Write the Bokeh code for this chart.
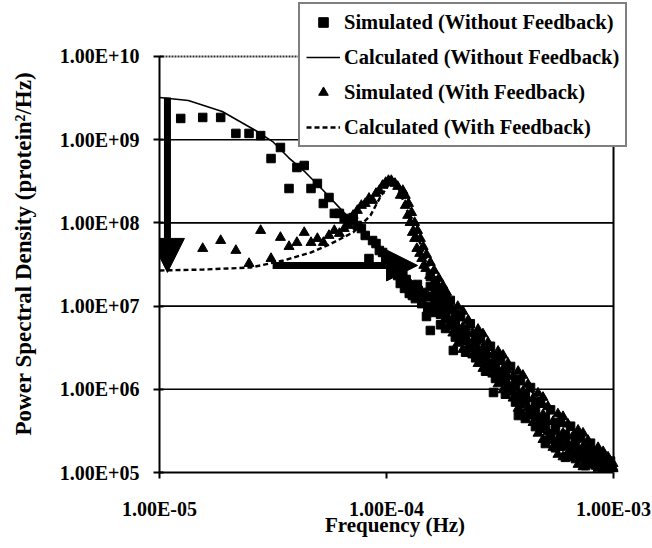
from bokeh.plotting import figure
from bokeh.models import FixedTicker, Legend, LegendItem, Arrow, NormalHead
from bokeh.embed import file_html
from bokeh.resources import INLINE

FONT = "Liberation Serif"

# Axis ticks and their printed labels
x_ticks = [1e-5, 1e-4, 1e-3]
x_tick_labels = ["1.00E-05", "1.00E-04", "1.00E-03"]
y_ticks = [1e5, 1e6, 1e7, 1e8, 1e9, 1e10]
y_tick_labels = ["1.00E+05", "1.00E+06", "1.00E+07", "1.00E+08", "1.00E+09", "1.00E+10"]

# Calculated spectrum, no feedback (Hz, protein^2/Hz)
calc_nofb_freq = [1.00e-5, 1.34e-5, 1.89e-5, 2.65e-5, 3.15e-5, 3.70e-5, 4.40e-5, 5.23e-5,
                  6.14e-5, 7.15e-5, 9.70e-5, 1.56e-4, 2.59e-4, 3.89e-4, 5.84e-4, 1.00e-3]
calc_nofb_psd = [3.21e9, 2.96e9, 2.18e9, 1.29e9, 9.5e8, 6.1e8, 4.04e8, 2.5e8,
                 1.57e8, 1.01e8, 4.29e7, 1.23e7, 3.55e6, 1.24e6, 4.46e5, 1.21e5]

# Calculated spectrum, with feedback
calc_fb_freq = [1.00e-5, 1.56e-5, 2.52e-5, 3.52e-5, 4.63e-5, 5.49e-5, 7.13e-5, 8.50e-5, 9.41e-5,
                1.04e-4, 1.13e-4, 1.28e-4, 1.52e-4, 1.82e-4, 2.34e-4, 3.18e-4, 5.84e-4, 1.00e-3]
calc_fb_psd = [2.68e7, 2.75e7, 2.91e7, 3.53e7, 4.40e7, 5.35e7, 7.70e7, 1.23e8, 2.07e8,
               3.05e8, 2.60e8, 1.07e8, 3.33e7, 1.23e7, 5.40e6, 2.10e6, 4.46e5, 1.21e5]

# Simulated spectrum, no feedback
sim_nofb_freq = [
    1.24e-5, 1.55e-5, 1.86e-5, 2.17e-5, 2.48e-5, 2.79e-5, 3.10e-5, 3.41e-5, 3.72e-5, 4.03e-5,
    4.34e-5, 4.65e-5, 4.96e-5, 5.27e-5, 5.58e-5, 5.89e-5, 6.20e-5, 6.51e-5, 6.82e-5, 7.13e-5,
    7.44e-5, 7.75e-5, 8.06e-5, 8.37e-5, 8.68e-5, 8.99e-5, 9.30e-5, 9.61e-5, 9.92e-5, 1.02e-4,
    1.05e-4, 1.09e-4, 1.12e-4, 1.15e-4, 1.18e-4, 1.20e-4, 1.22e-4, 1.26e-4, 1.30e-4, 1.34e-4,
    1.38e-4, 1.43e-4, 1.47e-4, 1.52e-4, 1.56e-4,
    1.165e-4, 1.235e-4, 1.30e-4, 1.368e-4, 1.44e-4, 1.517e-4, 1.50e-4,
    1.56e-4, 1.56e-4, 1.56e-4, 1.56e-4,
    1.64e-4, 1.64e-4, 1.64e-4, 1.64e-4, 1.64e-4,
    1.73e-4, 1.73e-4, 1.73e-4, 1.73e-4, 1.73e-4,
    1.82e-4, 1.82e-4, 1.82e-4, 1.82e-4, 1.82e-4,
    1.91e-4, 1.91e-4, 1.97e-4, 2.01e-4, 2.01e-4, 2.01e-4, 2.12e-4, 2.12e-4, 2.12e-4,
    2.23e-4, 2.23e-4, 2.23e-4, 2.34e-4, 2.34e-4,
    2.47e-4, 2.47e-4, 2.47e-4, 2.59e-4, 2.59e-4, 2.59e-4, 2.73e-4, 2.73e-4, 2.73e-4,
    2.87e-4, 2.87e-4, 2.96e-4,
    3.02e-4, 3.02e-4, 3.02e-4, 3.18e-4, 3.18e-4, 3.18e-4, 3.34e-4, 3.34e-4, 3.34e-4,
    3.52e-4, 3.52e-4, 3.70e-4, 3.70e-4, 3.70e-4,
    3.81e-4, 3.89e-4, 3.89e-4, 3.89e-4, 4.09e-4, 4.09e-4, 4.09e-4, 4.31e-4, 4.31e-4,
    4.53e-4, 4.53e-4, 4.53e-4,
    4.77e-4, 4.77e-4, 4.77e-4, 5.01e-4, 5.01e-4, 5.01e-4, 5.28e-4, 5.28e-4,
    5.55e-4, 5.55e-4, 5.55e-4, 5.84e-4, 5.84e-4, 5.84e-4,
    6.14e-4, 6.14e-4, 6.14e-4, 6.47e-4, 6.47e-4, 6.80e-4, 6.80e-4, 6.80e-4,
    7.16e-4, 7.16e-4, 7.16e-4, 7.53e-4, 7.53e-4, 7.53e-4,
    7.92e-4, 7.92e-4, 8.33e-4, 8.33e-4, 8.33e-4, 8.77e-4, 8.77e-4, 8.77e-4,
    9.22e-4, 9.22e-4, 9.22e-4, 9.70e-4, 9.70e-4]
sim_nofb_psd = [
    1.80e9, 1.85e9, 1.85e9, 1.19e9, 1.19e9, 1.12e9, 5.94e8, 8.06e8, 2.59e8, 4.63e8,
    4.90e8, 2.59e8, 2.98e8, 1.71e8, 2.02e8, 1.30e8, 1.30e8, 1.13e8, 1.07e8, 1.16e8,
    9.31e7, 8.56e7, 7.06e7, 3.73e7, 6.14e7, 5.65e7, 4.66e7, 4.41e7, 3.73e7, 3.34e7,
    3.34e7, 2.68e7, 2.33e7, 1.87e7, 2.53e7, 1.63e7, 2.09e7, 1.42e7, 1.77e7, 1.23e7,
    1.54e7, 1.07e7, 1.34e7, 9.36e6, 5.09e6,
    2.03e7, 1.82e7, 1.34e7, 1.82e7, 1.46e7, 1.30e7, 7.50e6,
    2.27e7, 1.30e7, 1.72e7, 9.89e6,
    1.54e7, 8.38e6, 1.27e7, 1.92e7, 1.04e7,
    1.46e7, 7.93e6, 9.31e6, 1.10e7, 5.96e6,
    9.89e6, 5.38e6, 8.31e6, 1.30e7, 7.04e6,
    1.17e7, 6.64e6, 2.93e6, 7.88e6, 4.24e6, 6.51e6, 7.46e6, 4.00e6, 4.74e6,
    5.13e6, 2.79e6, 4.35e6, 6.13e6, 3.57e6,
    4.25e6, 2.39e6, 3.55e6, 4.05e6, 2.31e6, 2.69e6, 2.85e6, 1.65e6, 2.46e6,
    3.29e6, 2.03e6, 9.15e5,
    2.34e6, 1.35e6, 1.98e6, 2.24e6, 1.27e6, 1.49e6, 1.57e6, 8.73e5, 1.34e6,
    1.88e6, 1.09e6, 1.30e6, 7.02e5, 1.08e6,
    4.84e5, 1.27e6, 6.68e5, 7.95e5, 8.54e5, 4.46e5, 7.16e5, 1.05e6, 5.72e5,
    7.02e5, 3.56e5, 5.69e5,
    6.79e5, 3.41e5, 4.11e5, 4.49e5, 2.23e5, 3.71e5, 5.66e5, 2.95e5,
    3.94e5, 1.98e5, 3.19e5, 4.01e5, 2.07e5, 2.48e5,
    2.86e5, 1.52e5, 2.40e5, 3.60e5, 2.08e5, 2.61e5, 1.47e5, 2.19e5,
    2.60e5, 1.51e5, 1.75e5, 1.95e5, 1.21e5, 1.72e5,
    2.25e5, 1.54e5, 1.75e5, 1.23e5, 1.57e5, 1.67e5, 1.26e5, 1.36e5,
    1.38e5, 1.11e5, 1.30e5, 1.37e5, 1.20e5]

# Simulated spectrum, with feedback
sim_fb_freq = [
    1.55e-5, 1.86e-5, 2.17e-5, 2.48e-5, 2.79e-5, 3.10e-5, 3.41e-5, 3.72e-5, 4.03e-5, 4.34e-5,
    4.65e-5, 4.96e-5, 5.27e-5, 5.58e-5, 5.89e-5, 6.20e-5, 6.51e-5, 6.82e-5, 7.13e-5, 7.44e-5,
    7.75e-5, 8.06e-5, 8.37e-5, 8.68e-5, 8.99e-5, 9.30e-5, 9.61e-5, 9.92e-5, 1.02e-4, 1.05e-4,
    1.09e-4, 1.12e-4, 1.15e-4, 1.18e-4, 1.21e-4, 1.24e-4, 1.27e-4, 1.30e-4, 1.33e-4, 1.36e-4,
    1.40e-4, 1.43e-4, 1.46e-4, 1.49e-4, 1.55e-4, 1.61e-4, 1.67e-4, 1.74e-4, 1.80e-4, 1.86e-4,
    1.21e-4, 1.25e-4, 1.29e-4, 1.33e-4, 1.37e-4, 1.41e-4, 1.45e-4, 1.50e-4, 1.56e-4, 1.62e-4,
    1.70e-4, 1.77e-4, 1.84e-4,
    1.96e-4, 1.96e-4, 2.06e-4, 2.06e-4, 2.17e-4, 2.17e-4, 2.29e-4, 2.29e-4, 2.40e-4, 2.40e-4,
    2.53e-4, 2.53e-4, 2.66e-4, 2.66e-4, 2.80e-4, 2.80e-4, 2.94e-4, 2.94e-4, 3.10e-4, 3.10e-4,
    3.26e-4, 3.26e-4, 3.43e-4, 3.43e-4, 3.61e-4, 3.61e-4, 3.80e-4, 3.80e-4, 3.99e-4, 3.99e-4,
    4.20e-4, 4.20e-4, 4.42e-4, 4.42e-4, 4.65e-4, 4.65e-4, 4.89e-4, 4.89e-4, 5.14e-4, 5.14e-4,
    5.41e-4, 5.41e-4, 5.69e-4, 5.69e-4, 5.99e-4, 5.99e-4, 6.30e-4, 6.30e-4, 6.63e-4, 6.63e-4,
    6.98e-4, 6.98e-4, 7.34e-4, 7.34e-4, 7.72e-4, 7.72e-4, 8.12e-4, 8.12e-4, 8.55e-4, 8.55e-4,
    9.00e-4, 9.00e-4, 9.46e-4, 9.46e-4, 9.95e-4, 9.95e-4,
    1.96e-4, 2.06e-4, 2.17e-4, 2.29e-4, 2.40e-4, 2.53e-4, 2.66e-4, 2.80e-4, 2.94e-4, 3.10e-4,
    3.26e-4, 3.43e-4, 3.61e-4, 3.80e-4, 3.99e-4, 4.20e-4, 4.42e-4, 4.65e-4, 4.89e-4, 5.14e-4,
    5.41e-4, 5.69e-4, 5.99e-4, 6.30e-4, 6.63e-4, 6.98e-4, 7.34e-4, 7.72e-4, 8.12e-4, 8.55e-4,
    9.00e-4, 9.46e-4, 9.95e-4]
sim_fb_psd = [
    4.92e7, 6.14e7, 4.66e7, 3.25e7, 8.10e7, 3.73e7, 6.68e7, 5.20e7, 5.81e7, 7.67e7,
    5.81e7, 6.49e7, 5.81e7, 7.06e7, 8.10e7, 7.46e7, 8.56e7, 9.31e7, 1.23e8, 1.41e8,
    1.62e8, 1.71e8, 1.97e8, 1.86e8, 2.26e8, 2.45e8, 2.82e8, 3.06e8, 3.23e8, 3.23e8,
    2.98e8, 2.74e8, 2.14e8, 2.45e8, 1.62e8, 1.23e8, 1.01e8, 7.67e7, 6.49e7, 4.92e7,
    4.29e7, 3.73e7, 3.08e7, 2.83e7, 2.33e7, 1.87e7, 1.54e7, 1.30e7, 1.17e7, 9.89e6,
    2.14e8, 1.71e8, 1.33e8, 1.01e8, 8.10e7, 6.49e7, 5.20e7, 4.17e7, 3.34e7, 2.68e7,
    2.15e7, 1.77e7, 1.46e7,
    8.80e6, 4.74e6, 9.89e6, 5.31e6, 5.62e6, 3.01e6, 6.77e6, 3.68e6, 4.69e6, 2.58e6,
    5.25e6, 2.94e6, 3.14e6, 1.78e6, 3.66e6, 2.12e6, 2.58e6, 1.52e6, 2.86e6, 1.65e6,
    1.74e6, 9.83e5, 2.05e6, 1.14e6, 1.43e6, 7.82e5, 1.64e6, 8.78e5, 9.46e5, 4.99e5,
    1.15e6, 5.99e5, 7.73e5, 3.98e5, 8.98e5, 4.56e5, 4.97e5, 2.49e5, 6.20e5, 3.07e5,
    4.09e5, 2.00e5, 5.05e5, 2.54e5, 2.97e5, 1.54e5, 3.81e5, 2.03e5, 2.74e5, 1.50e5,
    3.22e5, 1.81e5, 2.03e5, 1.17e5, 2.43e5, 1.51e5, 1.86e5, 1.23e5, 1.99e5, 1.40e5,
    1.47e5, 1.10e5, 1.53e5, 1.22e5, 1.28e5, 1.10e5,
    5.61e6, 3.57e6, 8.66e6, 3.19e6, 3.04e6, 2.04e6, 4.63e6, 1.86e6, 1.75e6, 1.16e6,
    2.57e6, 9.95e5, 9.20e5, 5.91e5, 1.47e6, 5.13e5, 4.76e5, 2.96e5, 7.99e5, 2.60e5,
    2.43e5, 1.65e5, 4.69e5, 1.74e5, 1.77e5, 1.25e5, 2.97e5, 1.34e5, 1.37e5, 1.12e5,
    1.78e5, 1.16e5, 1.15e5]

# The frame reaches a little past 1E+10 and 1E-03 so the legend box can sit
# over the top edge of the chart; axes are bounded to the data extent.
x_lo, x_hi = x_ticks[0], x_ticks[-1]
y_lo, y_hi = y_ticks[0], y_ticks[-1]
p = figure(width=652, height=548, x_axis_type="log", y_axis_type="log",
           x_range=(x_lo, 1.188e-3), y_range=(y_lo, 4.71e10),
           output_backend="svg", toolbar_location=None,
           min_border_left=159, min_border_right=22, min_border_top=0, min_border_bottom=76,
           background_fill_color="white", border_fill_color="white")
p.outline_line_color = None

# axes
p.xaxis.ticker = FixedTicker(ticks=x_ticks)
p.yaxis.ticker = FixedTicker(ticks=y_ticks)
p.xaxis.bounds = (x_lo, x_hi)
p.yaxis.bounds = (y_lo, y_hi)
p.xaxis.major_label_overrides = dict(zip(x_ticks, x_tick_labels))
p.yaxis.major_label_overrides = dict(zip(y_ticks, y_tick_labels))
for ax in (p.xaxis, p.yaxis):
    ax.axis_line_color = "black"
    ax.axis_line_width = 2
    ax.major_tick_line_color = "black"
    ax.major_tick_line_width = 2
    ax.minor_tick_line_color = None
    ax.major_label_text_font = FONT
    ax.major_label_text_font_style = "bold"
    ax.major_label_text_font_size = "20px"
    ax.major_label_text_color = "black"
    ax.axis_label_text_font = FONT
    ax.axis_label_text_font_style = "bold"
    ax.axis_label_text_font_size = "21px"
    ax.axis_label_text_color = "black"
p.yaxis.major_tick_in = 4
p.yaxis.major_tick_out = 6
p.yaxis.major_label_standoff = 14
# trailing no-break spaces keep the title centred on the 1E+05..1E+10 span
p.yaxis.axis_label = "Power Spectral Density (protein\u00b2/Hz)" + "\u00a0" * 6
p.yaxis.axis_label_text_font_size = "23px"
p.yaxis.axis_label_standoff = 21
p.xaxis.major_tick_in = 0
p.xaxis.major_tick_out = 6
p.xaxis.major_label_standoff = 19
p.xaxis.axis_label = "Frequency (Hz)"
p.xaxis.axis_label_standoff = -10

# horizontal grid lines, right border and dotted top line, within the axis extent
p.grid.visible = False
grid_levels = y_ticks[1:-1]
p.segment(x0=[x_lo] * len(grid_levels), y0=grid_levels,
          x1=[x_hi] * len(grid_levels), y1=grid_levels,
          line_color="black", line_width=1.6)
p.segment(x0=[x_lo], y0=[y_hi], x1=[x_hi], y1=[y_hi],
          line_color="#333333", line_width=2, line_dash="2 1")
p.segment(x0=[x_hi], y0=[y_lo], x1=[x_hi], y1=[y_hi], line_color="black", line_width=2)

# curves and points
r_calc = p.line(calc_nofb_freq, calc_nofb_psd, line_color="black", line_width=1.6)
r_calc_fb = p.line(calc_fb_freq, calc_fb_psd, line_color="black", line_width=2.4,
                   line_dash="5 3")
r_sim = p.scatter(sim_nofb_freq, sim_nofb_psd, marker="square", size=8.5, color="black")
r_sim_fb = p.scatter(sim_fb_freq, sim_fb_psd, marker="triangle", size=10, color="black")

# arrows: drop of the low-frequency level, and the shift to the resonance
p.add_layout(Arrow(end=NormalHead(size=34, fill_color="black", line_color="black"),
                   x_start=1.084e-5, y_start=3.21e9, x_end=1.084e-5, y_end=2.54e7,
                   line_width=7, line_color="black"))
p.add_layout(Arrow(end=NormalHead(size=31, fill_color="black", line_color="black"),
                   x_start=3.15e-5, y_start=3.08e7, x_end=1.37e-4, y_end=3.08e7,
                   line_width=7, line_color="black"))

legend = Legend(items=[
    LegendItem(label="Simulated (Without Feedback)", renderers=[r_sim]),
    LegendItem(label="Calculated (Without Feedback)", renderers=[r_calc]),
    LegendItem(label="Simulated (With Feedback)", renderers=[r_sim_fb]),
    LegendItem(label="Calculated (With Feedback)", renderers=[r_calc_fb]),
], location=(139, 325))
legend.border_line_color = "black"
legend.border_line_width = 2
legend.background_fill_color = "white"
legend.background_fill_alpha = 1
legend.padding = 6
legend.spacing = 11
legend.margin = 0
legend.glyph_width = 34
legend.glyph_height = 24
legend.label_height = 24
legend.label_standoff = 4
legend.label_text_font = FONT
legend.label_text_font_style = "bold"
legend.label_text_font_size = "20.5px"
legend.label_text_color = "black"
p.add_layout(legend)

open("out.html", "w").write(file_html(p, INLINE))
